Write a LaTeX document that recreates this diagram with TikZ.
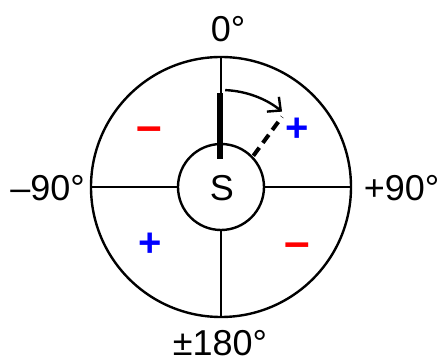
\documentclass[tikz,border=0pt]{standalone}
\usepackage{fontspec}
\setmainfont{Liberation Sans}
\usepackage{tikz}
\usetikzlibrary{arrows.meta}
\definecolor{ink}{HTML}{000000}
\definecolor{signred}{HTML}{FF0000}
\definecolor{signblue}{HTML}{0000FF}
\tikzset{
  big/.style={font=\fontsize{36}{40}\selectfont, text=ink, inner sep=0pt},
  ring/.style={circle, draw=ink, line width=2.4pt, inner sep=0pt},
  spoke/.style={draw=ink, line width=2.2pt},
  pointer/.style={draw=ink, line width=6pt},
  turned/.style={draw=ink, line width=4pt, dash pattern=on 10pt off 6pt},
  sweep/.style={-{Straight Barb[length=10pt,width=19pt]}, draw=ink, line width=2.4pt},
  sign/.style={font=\fontsize{40}{44}\selectfont\bfseries, inner sep=0pt},
  bar/.style={font=\fontsize{46}{50}\selectfont\bfseries, inner sep=0pt}
}

\begin{document}
\begin{tikzpicture}[x=1pt,y=1pt]
  \useasboundingbox (-221,-176) rectangle (219,187);

  % dial and hub
  \node[ring, minimum size=260pt] (dial) at (0,0) {};
  \node[ring, minimum size=86pt] (hub) at (0,0) {};
  \node[big] (s) at (1,-1) {S};

  % spokes
  \draw[spoke] (hub.north) -- (dial.north);
  \draw[spoke] (hub.east) -- (dial.east);
  \draw[spoke] (hub.south) -- (dial.south);
  \draw[spoke] (hub.west) -- (dial.west);

  % pointer and turned pointer
  \coordinate (ptail) at (-1,28);
  \coordinate (phead) at (-1,94);
  \draw[pointer] (ptail) -- (phead);
  \coordinate (ttail) at (44:45);
  \coordinate (thead) at (49:93);
  \draw[turned] (ttail) -- (thead);
  \coordinate (sstart) at (87.5:97);
  \draw[sweep] (sstart) arc[start angle=87.5, end angle=51, radius=97];

  % angle labels
  \node[big] (n0) at (7,158) {0°};
  \node[big] (w90) at (-173.5,-1) {–90°};
  \node[big] (e90) at (180.5,-1) {+90°};
  \node[big] (s180) at (-1,-156) {±180°};

  % signs
  \node[bar, text=signred] (mtl) at (-71.5,53) {–};
  \node[sign, text=signblue] (ptr) at (76,57) {+};
  \node[sign, text=signblue] (pbl) at (-71,-58) {+};
  \node[bar, text=signred] (mbr) at (76,-63) {–};
\end{tikzpicture}
\end{document}
